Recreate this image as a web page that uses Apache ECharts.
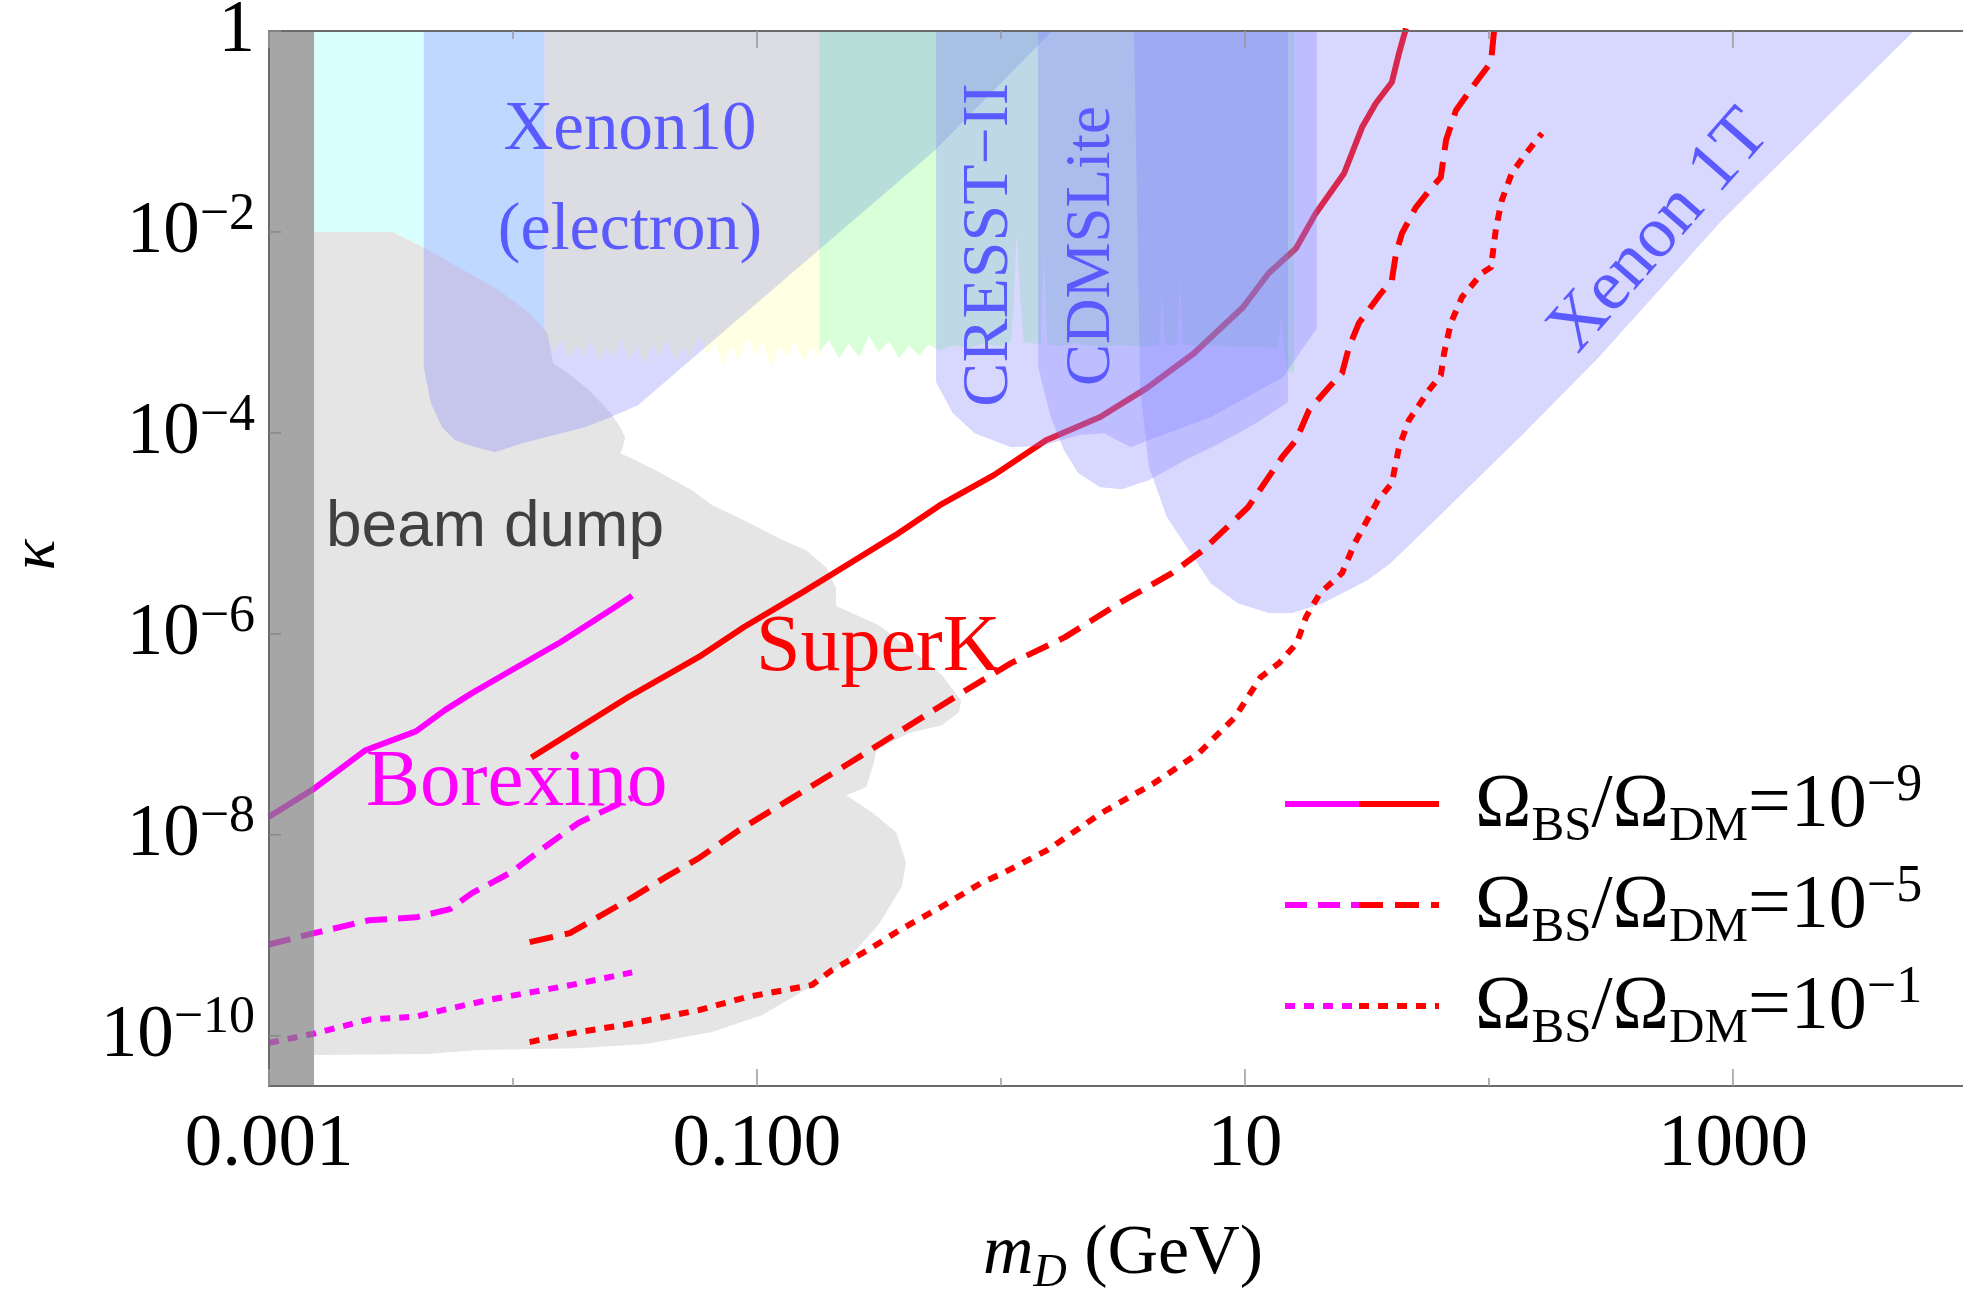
<!DOCTYPE html>
<html><head><meta charset="utf-8">
<script src="https://cdn.jsdelivr.net/npm/echarts/dist/echarts.min.js"></script>
<style>html,body{margin:0;padding:0;background:#fff;overflow:hidden}#c{width:1963px;height:1293px}</style>
</head><body><div id="c"></div><script>
// ---------- axis data ----------
const kappaMin = 3.1623e-11;          // 10^-10.5
const kappaMax = 1;
const massMin = 1e-3, massMax = 8770; // plot is cropped on the right just before 10^4
const xMajorTicks = [1e-3, 1e-1, 1e1, 1e3];
const xMinorTicks = [1e-2, 1, 1e2];
const xTickLabels = ['0.001', '0.100', '10', '1000'];
const yTicks = [1, 1e-2, 1e-4, 1e-6, 1e-8, 1e-10];
const yTickExps = ['', '−2', '−4', '−6', '−8', '−10'];
const legendExps = ['−9', '−5', '−1'];

// ---------- curves [m_D (GeV), kappa] ----------
const borexinoSolid = [[1.0e-3,1.51e-8],[1.53e-3,2.88e-8],[2.47e-3,6.9e-8],[4.0e-3,1.07e-7],[5.26e-3,1.74e-7],[6.79e-3,2.57e-7],[9.9e-3,4.37e-7],[1.57e-2,8.3e-7],[2.52e-2,1.74e-6],[3.08e-2,2.4e-6]];
const borexinoDashed = [[1.0e-3,8.1e-10],[1.53e-3,1.05e-9],[2.57e-3,1.41e-9],[4.0e-3,1.51e-9],[5.52e-3,1.82e-9],[6.79e-3,2.63e-9],[9.9e-3,4.27e-9],[1.30e-2,7.08e-9],[1.86e-2,1.32e-8],[3.08e-2,2.34e-8]];
const borexinoDotted = [[1.0e-3,8.5e-11],[1.53e-3,1.05e-10],[2.57e-3,1.45e-10],[4.0e-3,1.55e-10],[5.26e-3,1.82e-10],[8.05e-3,2.29e-10],[1.23e-2,2.75e-10],[1.86e-2,3.31e-10],[3.08e-2,4.27e-10]];
const superKSolid = [[1.19e-2,5.89e-8],[2.96e-2,2.34e-7],[5.78e-2,5.89e-7],[8.85e-2,1.17e-6],[0.153,2.57e-6],[0.243,5.13e-6],[0.368,9.55e-6],[0.562,1.91e-5],[0.935,3.80e-5],[1.53,8.47e-5],[2.55,1.44e-4],[3.96,2.79e-4],[6.18,6.21e-4],[9.82,1.78e-3],[12.5,3.88e-3],[16.2,6.89e-3],[19.5,1.53e-2],[25.5,3.84e-2],[30.2,0.110],[34.4,0.191],[40.0,0.309],[42.8,0.600],[45.7,1.06]];
const superKDashed = [[1.17e-2,8.55e-10],[1.71e-2,1.05e-9],[2.13e-2,1.42e-9],[3.10e-2,2.40e-9],[4.36e-2,3.97e-9],[5.78e-2,5.86e-9],[8.43e-2,1.11e-8],[0.141,2.37e-8],[0.243,5.3e-8],[0.420,1.22e-7],[0.692,2.6e-7],[1.10,5.11e-7],[1.83,9.27e-7],[3.05,2.02e-6],[5.02,4.02e-6],[6.73,6.81e-6],[10.3,1.82e-5],[14.2,5.73e-5],[16.2,8.47e-5],[18.3,1.68e-4],[22.1,2.85e-4],[25.0,3.93e-4],[26.7,7.13e-4],[29.3,1.24e-3],[36.1,2.45e-3],[40.0,3.30e-3],[41.6,6.12e-3],[44.0,9.68e-3],[50.2,1.76e-2],[58.3,2.78e-2],[63.5,3.50e-2],[66.7,8.17e-2],[73.3,0.163],[88.5,0.309],[102,0.489],[105,1.02]];
const superKDotted = [[1.17e-2,8.65e-11],[1.45e-2,9.7e-11],[1.86e-2,1.09e-10],[2.85e-2,1.28e-10],[5.78e-2,1.80e-10],[9.10e-2,2.43e-10],[0.168,3.20e-10],[0.203,4.51e-10],[0.285,7.13e-10],[0.385,1.13e-9],[0.568,1.91e-9],[0.828,3.31e-9],[1.02,4.16e-9],[1.55,7.05e-9],[2.57,1.64e-8],[4.24,3.27e-8],[6.47,6.50e-8],[9.10,1.48e-7],[11.6,3.71e-7],[13.8,5.11e-7],[16.3,8.07e-7],[17.8,1.47e-6],[20.3,2.54e-6],[25.0,4.02e-6],[28.2,8.0e-6],[35.1,2.14e-5],[40.0,3.16e-5],[42.8,7.21e-5],[47.0,1.34e-4],[56.8,2.66e-4],[63.5,3.75e-4],[65.5,6.21e-4],[69.8,1.24e-3],[77.5,2.24e-3],[93.5,3.88e-3],[102,4.46e-3],[107,1.11e-2],[113,2.07e-2],[124,3.84e-2],[142,6.07e-2],[165,9.59e-2]];

// ---------- excluded regions [m_D, kappa] ----------
const cyanRegion = [[1.53e-3,1],[1.34e-2,1],[1.34e-2,9.8e-4],[1.53e-3,9.8e-4]];
const beamDump = [[1.53e-3,1e-2],[3.19e-3,1e-2],[4.28e-3,7.05e-3],[8.77e-3,2.63e-3],[1.17e-2,1.55e-3],[1.39e-2,9.8e-4],[1.46e-2,4.94e-4],[1.66e-2,4.02e-4],[2.05e-2,2.66e-4],[2.52e-2,1.57e-4],[2.75e-2,1.14e-4],[2.88e-2,9.06e-5],[2.82e-2,7.21e-5],[2.75e-2,6.28e-5],[2.99e-2,5.73e-5],[3.85e-2,4.26e-5],[5.42e-2,2.69e-5],[6.55e-2,1.91e-5],[9.02e-2,1.32e-5],[0.123,8.95e-6],[0.159,6.8e-6],[0.192,4.61e-6],[0.211,2.85e-6],[0.211,1.89e-6],[0.316,1.22e-6],[0.431,6.89e-7],[0.573,3.88e-7],[0.686,2.19e-7],[0.673,1.66e-7],[0.573,1.23e-7],[0.420,1.03e-7],[0.308,6.97e-8],[0.302,5.28e-8],[0.280,2.98e-8],[0.232,2.48e-8],[0.296,1.68e-8],[0.372,1.06e-8],[0.408,5.35e-9],[0.393,3.08e-9],[0.316,1.29e-9],[0.232,5.53e-10],[0.168,3.12e-10],[0.105,1.61e-10],[6.55e-2,1.09e-10],[3.51e-2,8.26e-11],[1.86e-2,7.53e-11],[7.26e-3,7.2e-11],[4.45e-3,6.58e-11],[1.53e-3,6.43e-11]];
const xenon10Region = [[4.31e-3,1],[1.62,1],[0.537,0.065],[3.25e-2,1.89e-4],[2.52e-2,1.44e-4],[1.97e-2,1.14e-4],[1.46e-2,9.5e-5],[1.09e-2,7.9e-5],[8.43e-3,6.43e-5],[6.61e-3,7.55e-5],[5.78e-3,8.5e-5],[5.12e-3,1.14e-4],[4.61e-3,1.98e-4],[4.31e-3,4.5e-4]];
const yellowTop = [[1.36e-2,1],[0.180,1]];
const yellowBottom = [[1.36e-2,9.4e-4],[1.47e-2,6.35e-4],[1.57e-2,8.4e-4],[1.70e-2,5.5e-4],[1.83e-2,7.4e-4],[1.95e-2,5.8e-4],[2.09e-2,8.4e-4],[2.25e-2,5.05e-4],[2.40e-2,6.95e-4],[2.59e-2,5.65e-4],[2.77e-2,8.8e-4],[2.99e-2,5.3e-4],[3.22e-2,7.3e-4],[3.48e-2,4.8e-4],[3.72e-2,7.8e-4],[3.96e-2,5.8e-4],[4.28e-2,8.6e-4],[4.61e-2,5.2e-4],[4.98e-2,7.1e-4],[5.37e-2,5.5e-4],[5.78e-2,9.8e-4],[6.24e-2,5.9e-4],[6.73e-2,8.2e-4],[7.26e-2,4.6e-4],[7.82e-2,7.4e-4],[8.43e-2,5.3e-4],[9.10e-2,9.2e-4],[9.82e-2,5.9e-4],[0.106,8.0e-4],[0.114,4.4e-4],[0.123,7.3e-4],[0.133,5.65e-4],[0.143,8.4e-4],[0.155,5.05e-4],[0.166,6.95e-4],[0.180,5.9e-4]];
const greenTop = [[0.180,1],[15.9,1]];
const greenBottom = [[0.180,6.35e-4],[0.197,8.4e-4],[0.217,5.5e-4],[0.238,7.8e-4],[0.262,5.65e-4],[0.288,9.2e-4],[0.316,6.35e-4],[0.348,8.2e-4],[0.382,5.5e-4],[0.420,7.4e-4],[0.461,5.9e-4],[0.507,7.6e-4],[0.557,6.6e-4],[0.641,7.4e-4],[0.740,6.95e-4],[0.851,7.8e-4],[0.982,7.3e-4],[1.10,8.0e-4],[1.13,2.09e-3],[1.16,9.66e-3],[1.20,2.09e-3],[1.24,8.0e-4],[1.46,7.6e-4],[1.50,6.25e-3],[1.55,7.6e-4],[1.73,7.3e-4],[1.99,7.8e-4],[2.30,7.4e-4],[2.64,7.1e-4],[3.05,7.6e-4],[3.68,7.3e-4],[4.45,7.4e-4],[4.57,2.63e-3],[4.70,7.4e-4],[5.26,7.6e-4],[5.42,3.54e-3],[5.57,7.6e-4],[6.47,7.3e-4],[7.82,7.4e-4],[9.44,7.1e-4],[11.4,7.3e-4],[13.6,6.95e-4],[14.1,1.41e-3],[14.5,6.6e-4],[15.0,4.0e-4],[15.9,4.0e-4]];
const cresstRegion = [[0.542,1],[19.7,1],[19.7,1.10e-3],[14.3,3.58e-4],[7.26,1.44e-4],[4.04,8.5e-5],[3.41,7.2e-5],[2.64,9.9e-5],[2.07,9.5e-5],[1.47,7.4e-5],[1.10,7.2e-5],[0.78,9.9e-5],[0.635,1.57e-4],[0.542,3.19e-4]];
const cdmsRegion = [[1.42,1],[15.0,1],[15.0,2.02e-4],[11.1,1.25e-4],[7.9,7.9e-5],[5.68,5.35e-5],[4.04,3.38e-5],[3.13,2.75e-5],[2.55,2.88e-5],[2.07,3.98e-5],[1.81,6.75e-5],[1.60,1.44e-4],[1.42,4.5e-4]];
const xenon1TRegion = [[3.51,1],[5520,1],[902,0.0131],[282,5.67e-4],[139,9.9e-5],[60.1,1.35e-5],[39.3,5.0e-6],[31.9,3.43e-6],[20.9,2.02e-6],[15.6,1.61e-6],[12.5,1.61e-6],[9.35,2.02e-6],[7.26,3.16e-6],[5.89,6.8e-6],[4.79,1.45e-5],[4.04,4.57e-5],[3.72,2.85e-4]];
const darkBand = [[1e-3,1],[1.53e-3,1],[1.53e-3,kappaMin],[1e-3,kappaMin]];

// ---------- helpers ----------
const SERIF = '"Liberation Serif", "DejaVu Serif", serif';
const SANS = '"Liberation Sans", Arial, sans-serif';
const MAG = '#ff00ff', RED = '#ff0000', LABEL_BLUE = '#5a5aff';
const LW = 6;

function polygonSeries(name, pts, fill, z) {
  return {
    type: 'custom', name, coordinateSystem: 'cartesian2d', z, silent: true, animation: false,
    data: pts, encode: {x: 0, y: 1},
    renderItem: function (params, api) {
      if (params.dataIndex !== 0) return null;
      return {type: 'polygon', shape: {points: pts.map(p => api.coord(p))}, style: {fill: fill}};
    }
  };
}
function lineSeries(name, data, color, dash, z) {
  return {type: 'line', name, data, z, symbol: 'none', silent: true, animation: false, clip: true,
    lineStyle: {color, width: LW, type: dash, cap: 'butt', join: 'round'}};
}

const series = [
  polygonSeries('cyan', cyanRegion, 'rgba(0,255,255,0.15)', 2),
  polygonSeries('beam dump', beamDump, '#e5e5e5', 3),
  lineSeries('Borexino 1e-9', borexinoSolid, MAG, 'solid', 4),
  lineSeries('Borexino 1e-5', borexinoDashed, MAG, [22, 11], 4),
  lineSeries('Borexino 1e-1', borexinoDotted, MAG, [10, 9], 4),
  lineSeries('SuperK 1e-9', superKSolid, RED, 'solid', 5),
  polygonSeries('Xenon10', xenon10Region, 'rgba(128,128,255,0.31)', 8),
  polygonSeries('yellow', yellowTop.concat(yellowBottom.slice().reverse()), 'rgba(255,255,0,0.11)', 9),
  polygonSeries('green', greenTop.concat(greenBottom.slice().reverse()), 'rgba(0,255,0,0.15)', 10),
  polygonSeries('CRESST-II', cresstRegion, 'rgba(128,128,255,0.31)', 11),
  polygonSeries('CDMSLite', cdmsRegion, 'rgba(128,128,255,0.31)', 12),
  polygonSeries('Xenon1T', xenon1TRegion, 'rgba(128,128,255,0.31)', 13),
  lineSeries('SuperK 1e-5', superKDashed, RED, [24, 12], 14),
  lineSeries('SuperK 1e-1', superKDotted, RED, [10, 9], 14),
  polygonSeries('band', darkBand, 'rgba(128,128,128,0.7)', 16),
  // x major ticks + labels
  {
    type: 'custom', z: 60, silent: true, animation: false,
    data: xMajorTicks.map(v => [v, kappaMin]), encode: {x: 0, y: 1},
    renderItem: function (params, api) {
      const b = api.coord([api.value(0), kappaMin]);
      const t = api.coord([api.value(0), kappaMax]);
      return {type: 'group', children: [
        {type: 'line', shape: {x1: b[0], y1: b[1], x2: b[0], y2: b[1] - 17}, style: {stroke: '#999', lineWidth: 1.5}},
        {type: 'line', shape: {x1: t[0], y1: t[1], x2: t[0], y2: t[1] + 17}, style: {stroke: '#999', lineWidth: 1.5}},
        {type: 'text', x: b[0], y: b[1] + 59, style: {text: xTickLabels[params.dataIndex], fill: '#000',
          font: '75px ' + SERIF, align: 'center', verticalAlign: 'middle'}}
      ]};
    }
  },
  // x minor ticks
  {
    type: 'custom', z: 60, silent: true, animation: false,
    data: xMinorTicks.map(v => [v, kappaMin]), encode: {x: 0, y: 1},
    renderItem: function (params, api) {
      const b = api.coord([api.value(0), kappaMin]);
      const t = api.coord([api.value(0), kappaMax]);
      return {type: 'group', children: [
        {type: 'line', shape: {x1: b[0], y1: b[1], x2: b[0], y2: b[1] - 8}, style: {stroke: '#999', lineWidth: 1.5}},
        {type: 'line', shape: {x1: t[0], y1: t[1], x2: t[0], y2: t[1] + 8}, style: {stroke: '#999', lineWidth: 1.5}}
      ]};
    }
  },
  // y ticks + labels
  {
    type: 'custom', z: 60, silent: true, animation: false,
    data: yTicks.map(v => [massMin, v]), encode: {x: 0, y: 1},
    renderItem: function (params, api) {
      const p = api.coord([massMin, api.value(1)]);
      const e = yTickExps[params.dataIndex];
      return {type: 'group', children: [
        {type: 'line', shape: {x1: p[0], y1: p[1], x2: p[0] + 12, y2: p[1]}, style: {stroke: '#888', lineWidth: 1.5}},
        {type: 'text', x: p[0] - 14, y: p[1] + 1, style: {
          text: e ? '{n|10}{p|' + e + '}' : '{n|1}', align: 'right', verticalAlign: 'middle', fill: '#000',
          rich: {
            n: {fontSize: 73, fontFamily: SERIF, fill: '#000', lineHeight: 88},
            p: {fontSize: 52, fontFamily: SERIF, fill: '#000', lineHeight: 52, verticalAlign: 'top'}
          }}}
      ]};
    }
  }
];

// ---------- legend & annotations ----------
const legendY = [804, 905, 1006];
const legendDash = [null, [24, 12], [10, 9]];
const legendDashM = [null, [22, 11], [10, 9]];
const graphics = [];
legendExps.forEach((ex, i) => {
  const y = legendY[i];
  graphics.push({type: 'line', z: 100, shape: {x1: 1285, y1: y, x2: 1359, y2: y}, style: {stroke: MAG, lineWidth: LW, lineDash: legendDashM[i]}});
  graphics.push({type: 'line', z: 100, shape: {x1: 1359, y1: y, x2: 1439, y2: y}, style: {stroke: RED, lineWidth: LW, lineDash: legendDash[i]}});
  graphics.push({type: 'text', z: 100, x: 1475, y: y + 2, style: {
    text: 'Ω{s|BS}/Ω{s|DM}=10{p|' + ex + '}', font: '76px ' + SERIF, fill: '#000', lineHeight: 92,
    align: 'left', verticalAlign: 'middle',
    rich: {
      s: {fontSize: 49, fontFamily: SERIF, fill: '#000', lineHeight: 52, verticalAlign: 'bottom'},
      p: {fontSize: 52, fontFamily: SERIF, fill: '#000', lineHeight: 54, verticalAlign: 'top'}
    }}});
});
function label(text, x, y, font, fill, align, rotation) {
  return {type: 'text', z: 100, x, y, rotation: rotation || 0,
    style: {text, font, fill, align: align || 'center', verticalAlign: 'middle'}};
}
graphics.push(label('Xenon10', 630, 131, '69px ' + SERIF, LABEL_BLUE));
graphics.push(label('(electron)', 630, 231, '68px ' + SERIF, LABEL_BLUE));
graphics.push(label('CRESST−II', 990, 245, '66px ' + SERIF, LABEL_BLUE, 'center', Math.PI / 2));
graphics.push(label('CDMSLite', 1092, 246, '63px ' + SERIF, LABEL_BLUE, 'center', Math.PI / 2));
graphics.push(label('Xenon 1T', 1660, 232, '73px ' + SERIF, LABEL_BLUE, 'center', 0.85));
graphics.push(label('beam dump', 326, 528, '64px ' + SANS, '#404040', 'left'));
graphics.push(label('Borexino', 366, 784, '81px ' + SERIF, MAG, 'left'));
graphics.push(label('SuperK', 756, 649, '80px ' + SERIF, RED, 'left'));
graphics.push({type: 'text', z: 100, x: 37, y: 555, rotation: Math.PI / 2,
  style: {text: 'κ', font: 'italic 64px ' + SERIF, fill: '#000', align: 'center', verticalAlign: 'middle'}});
graphics.push({type: 'text', z: 100, x: 1123, y: 1255, style: {
  text: '{i|m}{d|D} (GeV)', font: '70px ' + SERIF, fill: '#000', lineHeight: 84,
  align: 'center', verticalAlign: 'middle',
  rich: {
    i: {fontSize: 70, fontFamily: SERIF, fontStyle: 'italic', fill: '#000', lineHeight: 84},
    d: {fontSize: 46, fontFamily: SERIF, fontStyle: 'italic', fill: '#000', lineHeight: 46, verticalAlign: 'bottom'}
  }}});

const axisCommon = {
  type: 'log', z: 50, axisTick: {show: false}, axisLabel: {show: false},
  splitLine: {show: false}, minorTick: {show: false}, minorSplitLine: {show: false},
  axisLine: {show: true, onZero: false, lineStyle: {color: '#6b6b6b', width: 2}}
};
const chart = echarts.init(document.getElementById('c'), null, {renderer: 'canvas'});
chart.setOption({
  animation: false,
  grid: {left: 269, right: 0, top: 31, bottom: 207, containLabel: false},
  xAxis: [
    Object.assign({}, axisCommon, {min: massMin, max: massMax, position: 'bottom'}),
    Object.assign({}, axisCommon, {min: massMin, max: massMax, position: 'top'})
  ],
  yAxis: [Object.assign({}, axisCommon, {min: kappaMin, max: kappaMax, position: 'left'})],
  series: series,
  graphic: {elements: graphics}
});
</script></body></html>
